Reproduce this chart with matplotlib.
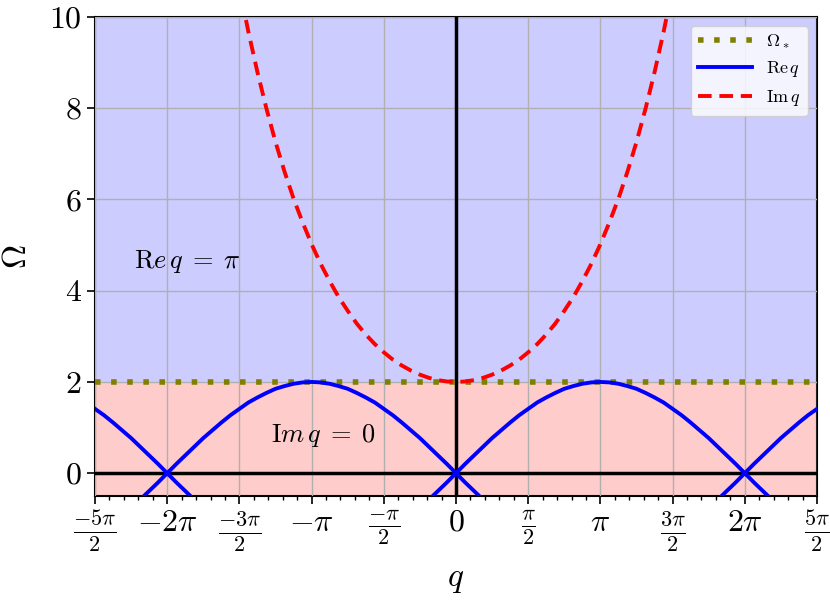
import numpy as np
import matplotlib
matplotlib.use('Agg')
import matplotlib.pyplot as plt

plt.rcParams['mathtext.fontset'] = 'cm'
plt.rcParams['font.family'] = 'serif'
plt.rcParams['font.serif'] = ['cmr10', 'DejaVu Serif']
plt.rcParams['axes.unicode_minus'] = False

# q sampled in units of pi (steps of pi/16)
q_re = np.arange(-40, 41) / 16.0
# Re q branch (the other branch is its mirror)
omega_re = [1.41, 1.27, 1.11, 0.94, 0.77, 0.58, 0.39, 0.20, 0.00,
            -0.20, -0.39, -0.58, -0.77, -0.94, -1.11, -1.27, -1.41, -1.55, -1.66,
            -1.76, -1.85, -1.91, -1.96, -1.99, -2.00,
            -1.99, -1.96, -1.91, -1.85, -1.76, -1.66, -1.55, -1.41, -1.27, -1.11,
            -0.94, -0.77, -0.58, -0.39, -0.20, 0.00,
            0.20, 0.39, 0.58, 0.77, 0.94, 1.11, 1.27, 1.41, 1.55, 1.66,
            1.76, 1.85, 1.91, 1.96, 1.99, 2.00,
            1.99, 1.96, 1.91, 1.85, 1.76, 1.66, 1.55, 1.41, 1.27, 1.11,
            0.94, 0.77, 0.58, 0.39, 0.20,
            0.00, -0.20, -0.39, -0.58, -0.77, -0.94, -1.11, -1.27, -1.41]

q_im = np.arange(-24, 25) / 16.0
omega_im = [10.65, 9.67, 8.79, 7.99, 7.26, 6.61, 6.02, 5.50, 5.02, 4.59, 4.21, 3.86,
            3.56, 3.28, 3.04, 2.83, 2.65, 2.49, 2.36, 2.25, 2.16, 2.09, 2.04, 2.01,
            2.00,
            2.01, 2.04, 2.09, 2.16, 2.25, 2.36, 2.49, 2.65, 2.83, 3.04, 3.28, 3.56,
            3.86, 4.21, 4.59, 5.02, 5.50, 6.02, 6.61, 7.26, 7.99, 8.79, 9.67, 10.65]

omega_star = 2.0

xtick_pos = [-2.5, -2, -1.5, -1, -0.5, 0, 0.5, 1, 1.5, 2, 2.5]
xtick_labels = [r'$\frac{-5\pi}{2}$', r'$-2\pi$', r'$\frac{-3\pi}{2}$', r'$-\pi$',
                r'$\frac{-\pi}{2}$', r'$0$', r'$\frac{\pi}{2}$', r'$\pi$',
                r'$\frac{3\pi}{2}$', r'$2\pi$', r'$\frac{5\pi}{2}$']
ytick_pos = [0, 2, 4, 6, 8, 10]

fig = plt.figure(figsize=(8.3, 6.01), dpi=100)
ax = fig.add_axes([95/830, 1 - 496/601, 722/830, 479/601])

xmin, xmax = -2.5 * np.pi, 2.5 * np.pi
ax.axhspan(omega_star, 10, color='#ccccff', zorder=0)
ax.axhspan(-0.5, omega_star, color='#ffcccc', zorder=0)

ax.axhline(0, color='black', lw=2.5, zorder=3)
ax.axvline(0, color='black', lw=2.5, zorder=3)

ax.plot([xmin, xmax], [omega_star, omega_star], color='olive', lw=4,
        linestyle=(0, (1, 1.9)), label=r'$\Omega_*$', zorder=3.5)
ax.plot(q_re * np.pi, omega_re, color='blue', lw=2.8, label=r'$\mathrm{Re}\,q$', zorder=4)
ax.plot(q_re * np.pi, -np.array(omega_re), color='blue', lw=2.8, zorder=4)
ax.plot(q_im * np.pi, omega_im, color='red', lw=2.8, linestyle=(0, (3.5, 2)),
        label=r'$\mathrm{Im}\,q$', zorder=5)

ax.text(-2.23 * np.pi, 4.63, r'$\mathrm{R}e\,q\;=\;\pi$', fontsize=19, ha='left', va='center')
ax.text(-1.28 * np.pi, 0.83, r'$\mathrm{I}m\,q\;=\;0$', fontsize=19, ha='left', va='center')

ax.set_xlim(xmin, xmax)
ax.set_ylim(-0.5, 10)
ax.set_xticks(np.array(xtick_pos) * np.pi)
ax.set_xticklabels(xtick_labels, fontsize=23)
ax.set_xticks(np.arange(-25, 26) / 10.0 * np.pi, minor=True)
ax.set_yticks(ytick_pos)
ax.set_yticklabels([r'$%d$' % v for v in ytick_pos], fontsize=23)
ax.tick_params(which='major', length=6, width=1.2)
ax.tick_params(which='minor', length=3, width=1)
ax.grid(True, which='major', color='#b0b0b0', lw=1)
ax.set_axisbelow(False)
for s in ax.spines.values():
    s.set_linewidth(1.5)

ax.set_xlabel(r'$q$', fontsize=24, labelpad=8)
ax.set_ylabel(r'$\Omega$', fontsize=24, labelpad=12)

ax.legend(loc='upper right', fontsize=13, handlelength=3)

fig.savefig('out.png', dpi=100)
